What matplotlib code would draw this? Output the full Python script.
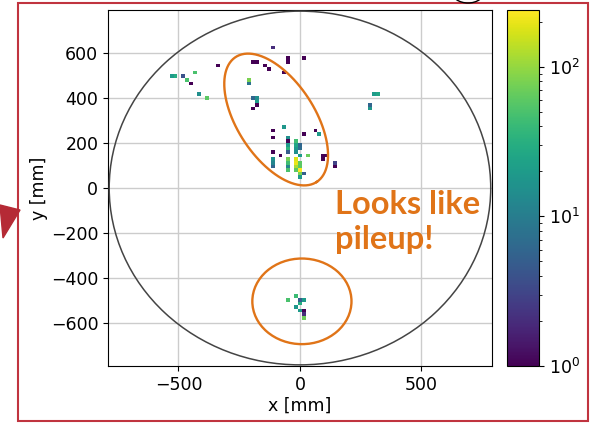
import numpy as np
import matplotlib.pyplot as plt
from matplotlib.colors import LogNorm
from matplotlib.patches import Circle, Ellipse, Rectangle, Polygon

# hit positions [mm] and counts per bin
x_mm = [-105, -41, 9, -200, -184, -54, -149, -133, -68, -336,
        -522, -505, -488, -430, -461, -445, -415, -383,
        -212, -212, -195, -179, -179, -179, -195,
        -105, -70, -105, 22, 56, 84, -54,
        -41, -24,
        -41, -24, -7,
        -54, -41, -24, -7,
        -118, -41, -24,
        -87, -7, 39, 88, 106,
        -105, -54, -41, -24, 102,
        -105, -41, -24, -7, 136,
        -105, -54, -24, 7, 149,
        -41, -24, -7, 7,
        -7, -7, 8, -7,
        298, 314, 292, 292,
        -41, -24, -11, -7, 23, 7, -24, -7, 9, 9, 9]
y_mm = [623, 575, 575, 557, 557, 557, 542, 528, 513, 542,
        498, 498, 498, 510, 481, 464, 418, 400,
        481, 464, 400, 400, 384, 369, 353,
        260, 276, 229, 246, 260, 244, 231,
        213, 213,
        196, 196, 196,
        182, 182, 182, 182,
        164, 164, 164,
        150, 150, 150, 150, 150,
        135, 135, 135, 135, 135,
        119, 119, 119, 119, 119,
        101, 101, 101, 101, 101,
        87, 87, 87, 87,
        73, 56, 56, 40,
        418, 418, 366, 351,
        -491, -479, -479, -491, -491, -509, -523, -541, -541, -553, -569]
counts = [2, 1, 1, 1, 1, 1, 1, 1, 1, 1,
          20, 30, 4, 50, 50, 1, 15, 60,
          80, 8, 6, 15, 20, 1, 1,
          1, 18, 1, 1, 1, 20, 15,
          1, 45,
          20, 25, 6,
          15, 20, 18, 7,
          1, 5, 15,
          1, 20, 70, 1, 1,
          15, 50, 25, 180, 1,
          12, 45, 200, 60, 3,
          6, 12, 120, 60, 1,
          50, 60, 70, 50,
          200, 80, 5, 20,
          20, 25, 6, 18,
          50, 20, 22, 5, 20, 30, 18, 20, 1, 2, 70]

orange = '#E07418'
fig = plt.figure(figsize=(5.92, 4.24), dpi=100)
ax = fig.add_axes([0.1824, 0.1368, 0.6486, 0.8396])
cax = fig.add_axes([0.8564, 0.1368, 0.054, 0.8396])

bins = np.linspace(-792, 792, 100)
h = ax.hist2d(x_mm, y_mm, bins=[bins, bins], weights=counts, cmin=1,
              cmap='viridis', norm=LogNorm(vmin=1, vmax=240), zorder=2)
ax.grid(True, color='#cccccc', linewidth=1, zorder=1)
ax.set_axisbelow(True)
ax.set_xlim(-790, 790)
ax.set_ylim(-790, 790)
ax.set_xticks([-500, 0, 500])
ax.set_yticks([-600, -400, -200, 0, 200, 400, 600])
ax.tick_params(labelsize=12.5)
ax.set_xlabel('x [mm]', fontsize=12.5, labelpad=2)
ax.set_ylabel('y [mm]', fontsize=12.5, labelpad=2)

ax.add_patch(Circle((0, 0), 785, fill=False, color='#444444', lw=1.1, zorder=3))

# annotations
t = np.linspace(0, 2 * np.pi, 200)
ax.plot(-98 + 167 * np.cos(t) + 133 * np.sin(t),
        304 - 277 * np.cos(t) + 94 * np.sin(t), color=orange, lw=1.7, zorder=4)
ax.add_patch(Ellipse((8, -503), 408, 380, fill=False, color=orange, lw=1.7, zorder=4))
fig.text(335 / 592, 1 - 222 / 424, 'Looks like\npileup!', color=orange,
         fontsize=23.5, fontweight='bold', family='Lato', va='center',
         linespacing=1.25)

cb = fig.colorbar(h[3], cax=cax)
cb.ax.tick_params(labelsize=12.5)

# slide frame
fig.add_artist(Rectangle((18 / 592, 3 / 424), 570 / 592, 418 / 424,
                         transform=fig.transFigure, fill=False,
                         color='#C0343F', lw=1.5))
fig.add_artist(Polygon([(0, 1 - 205 / 424), (20 / 592, 1 - 210 / 424), (3 / 592, 1 - 238 / 424)],
                       transform=fig.transFigure, color='#B52A35'))
fig.add_artist(Ellipse((468 / 592, 1 + 8 / 424), 32 / 592, 22 / 424,
                       transform=fig.transFigure, fill=False, color='black', lw=1.0))

fig.savefig('out.png', dpi=100)
